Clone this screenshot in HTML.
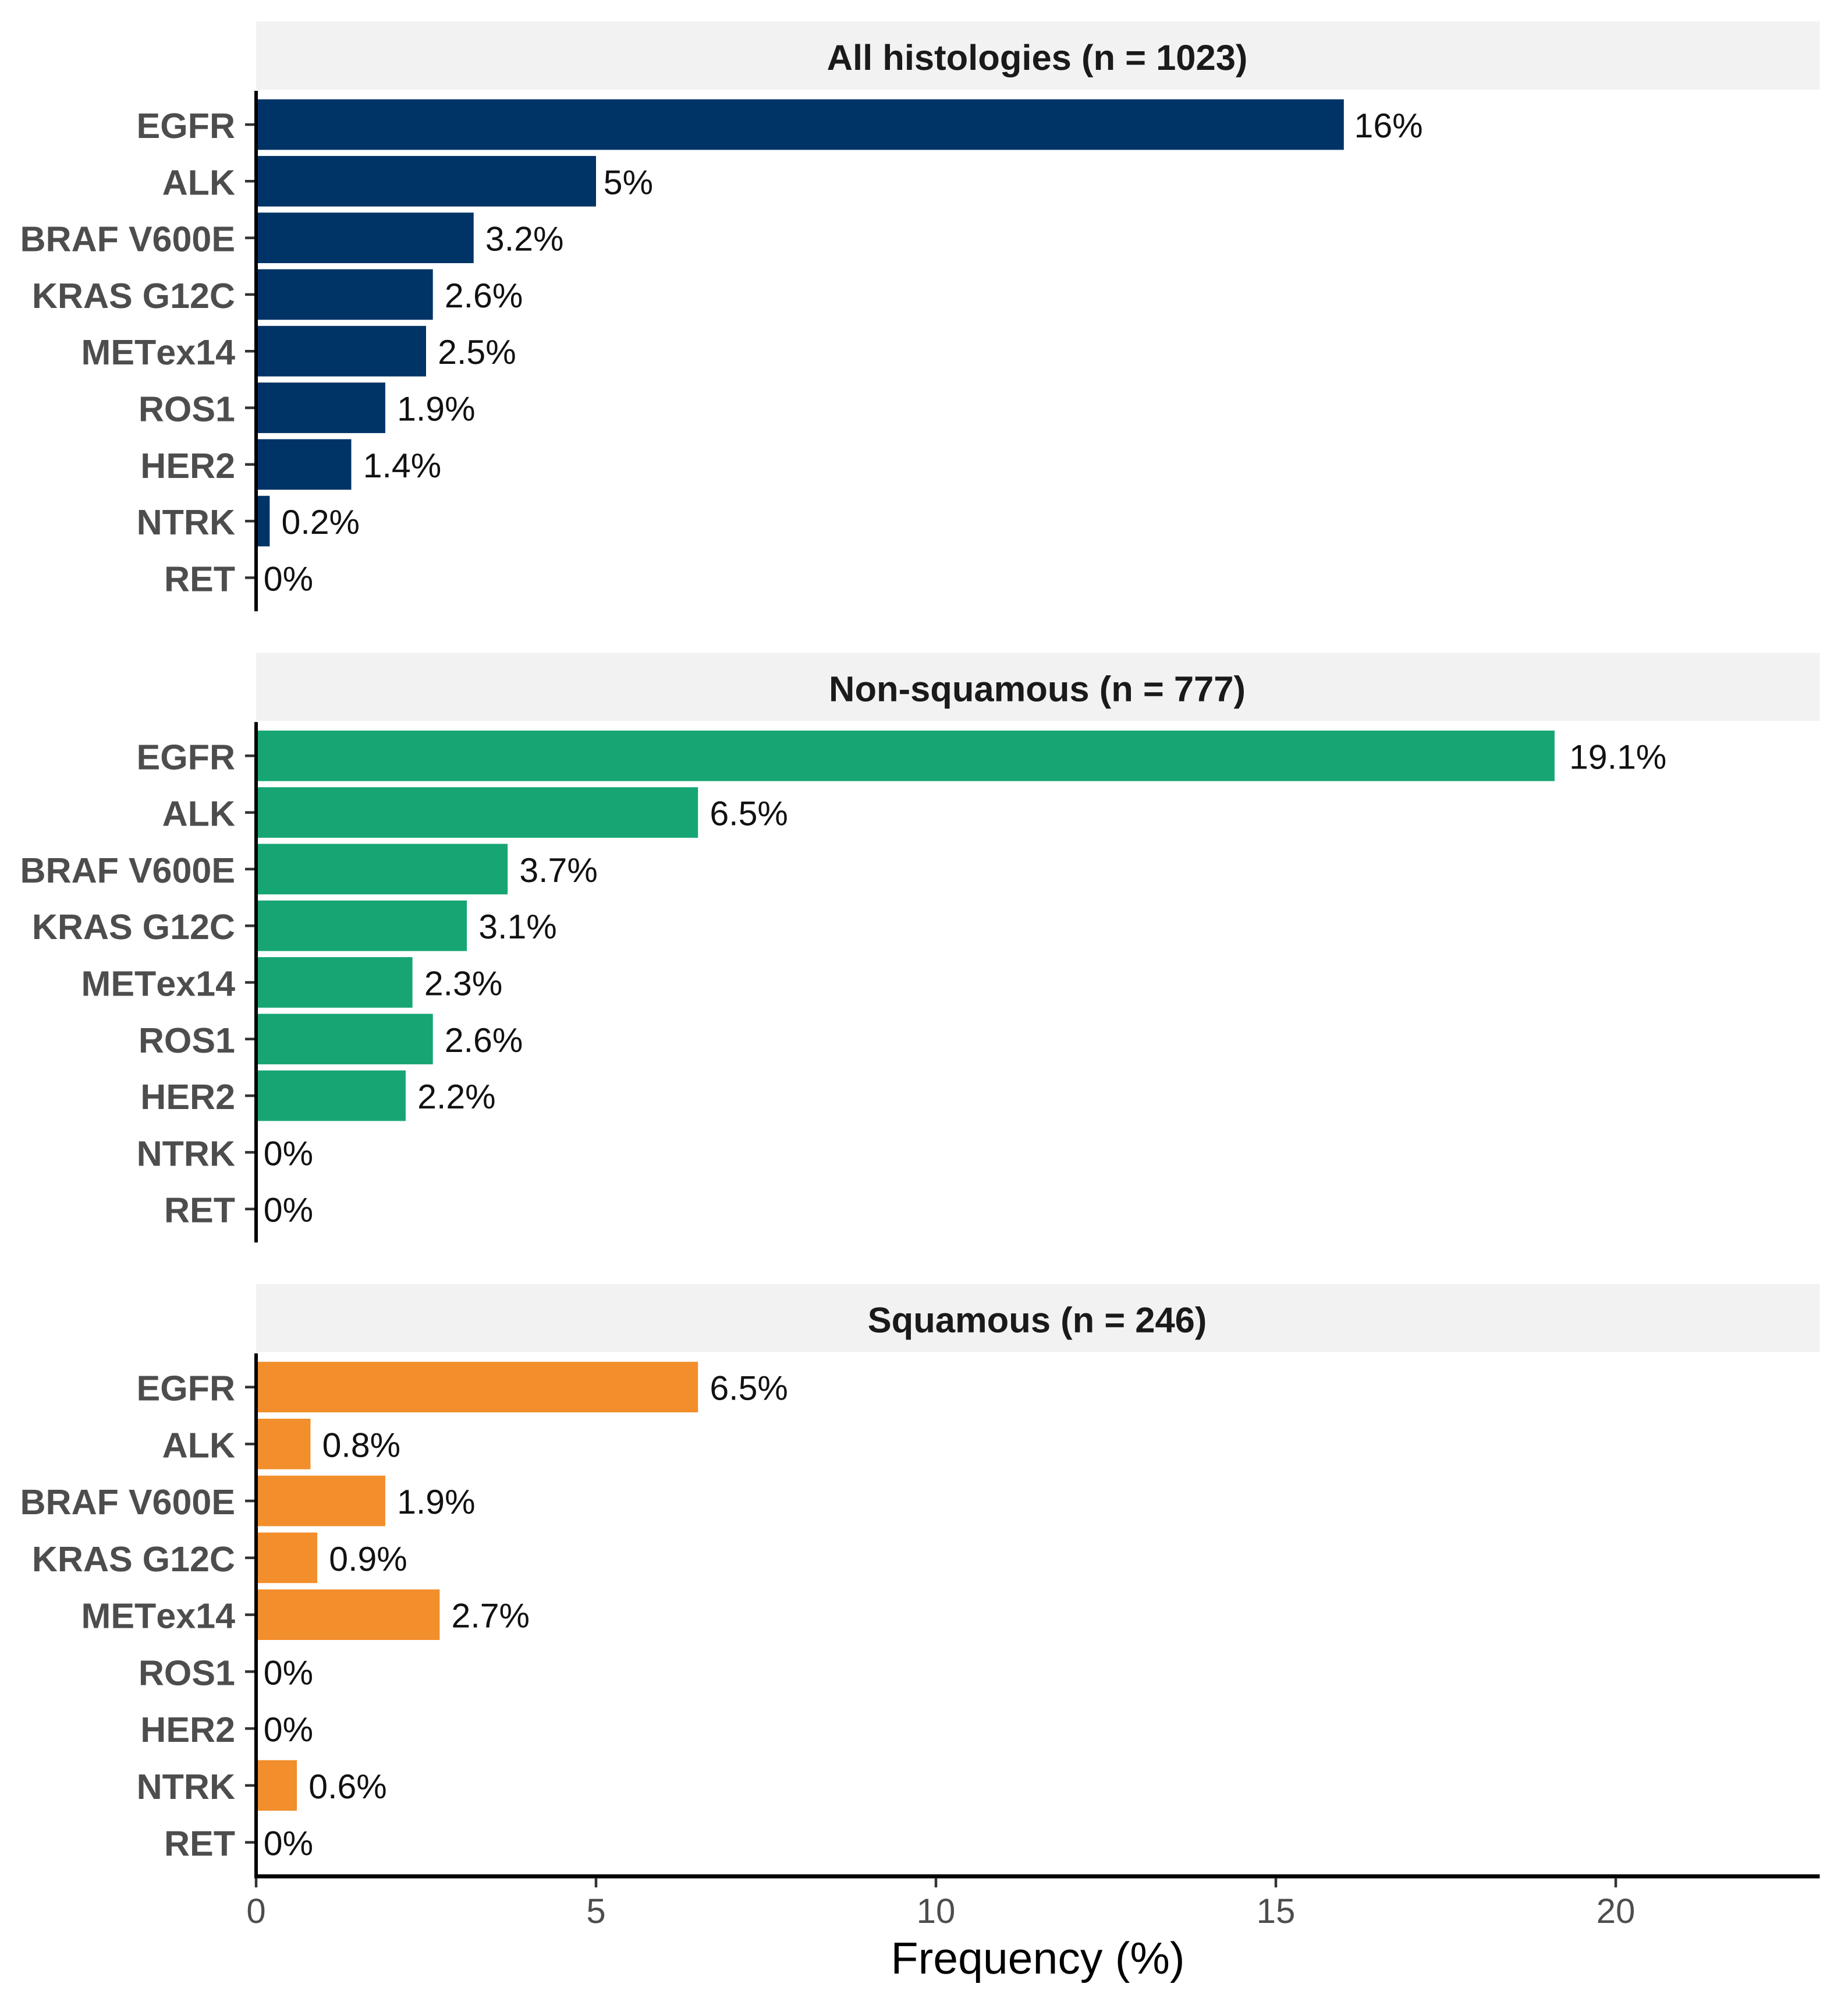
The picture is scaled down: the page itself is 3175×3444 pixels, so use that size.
<!DOCTYPE html>
<html lang="en">
<head>
<meta charset="utf-8">
<title>Frequency of driver alterations by histology</title>
<style>
  html, body { margin: 0; padding: 0; background: #ffffff; }
  svg { display: block; font-family: "Liberation Sans", Arial, sans-serif; text-rendering: geometricPrecision; font-kerning: none; }
</style>
</head>
<body>
<svg id="chart" xmlns="http://www.w3.org/2000/svg" width="3175" height="3444" viewBox="0 0 3175 3444">
  <rect x="0" y="0" width="3175" height="3444" fill="#ffffff"></rect>
</svg>
<script>
const categories = ["EGFR", "ALK", "BRAF V600E", "KRAS G12C", "METex14", "ROS1", "HER2", "NTRK", "RET"];
const allHistologies = [16, 5, 3.2, 2.6, 2.5, 1.9, 1.4, 0.2, 0];
const nonSquamous = [19.1, 6.5, 3.7, 3.1, 2.3, 2.6, 2.2, 0, 0];
const squamous = [6.5, 0.8, 1.9, 0.9, 2.7, 0, 0, 0.6, 0];
const panelTitles = ["All histologies (n = 1023)", "Non-squamous (n = 777)", "Squamous (n = 246)"];
const panelNames = ["all-histologies", "non-squamous", "squamous"];
const panelColors = ["#003366", "#17A673", "#F28E2B"];
const xTicks = [0, 5, 10, 15, 20];
const xAxisTitle = "Frequency (%)";
const xMax = 23;

const seriesList = [allHistologies, nonSquamous, squamous];
const svg = document.getElementById("chart");
const NS = "http://www.w3.org/2000/svg";

function xScale(v) { return 440 + (v / xMax) * (3126.4 - 440); }
function panelOffset(p) { return p * 1084.3; }
function bandStep(p) { return p === 2 ? 97.75 : 97.3; }
function yScale(p, j) { return 214 + panelOffset(p) + j * bandStep(p); }

function make(tag, attrs, text) {
  const el = document.createElementNS(NS, tag);
  for (const k in attrs) el.setAttribute(k, attrs[k]);
  if (text !== undefined) el.textContent = text;
  svg.appendChild(el);
  return el;
}

const right = xScale(xMax);
const barHeight = 86.8;

seriesList.forEach(function (values, p) {
  const off = panelOffset(p);
  const slug = panelNames[p];

  const strip = make("rect", { x: 440, y: 37 + off, width: right - 440, height: 117, fill: "#F2F2F2" });
  
  

  const title = make("text", {
    x: 1782, y: 120 + off, "text-anchor": "middle",
    "font-size": 61.5, "font-weight": "bold", fill: "#1a1a1a"
  }, panelTitles[p]);
  
  

  values.forEach(function (v, j) {
    const cy = yScale(p, j);
    const catSlug = categories[j].toLowerCase().replace(/\s+/g, '-');

    const bar = make("rect", {
      x: xScale(0), y: cy - barHeight / 2,
      width: xScale(v) - xScale(0), height: barHeight,
      fill: panelColors[p]
    });
    
    

    const tick = make("line", {
      x1: 421, x2: 438, y1: cy, y2: cy,
      stroke: "#333333", "stroke-width": 4.5
    });
    
    

    const cat = make("text", {
      x: 404, y: cy + 23, "text-anchor": "end",
      "font-size": 61, "font-weight": "bold", fill: "#4d4d4d"
    }, categories[j]);
    
    

    const val = make("text", {
      x: xScale(v), y: cy + 22, "font-size": 59, fill: "#111111"
    }, v + "%");
    val.setAttribute('x', xScale(v) + 0.15 * val.getComputedTextLength());
    
    
  });

  const axisBottom = p === seriesList.length - 1 ? 3226 : 1050 + off;
  const yAxis = make("line", {
    x1: 440, x2: 440, y1: 156 + off, y2: axisBottom,
    stroke: "#000000", "stroke-width": 6
  });
  
  
});

const xAxisLine = make("line", {
  x1: 437, x2: right, y1: 3223, y2: 3223,
  stroke: "#000000", "stroke-width": 7
});



xTicks.forEach(function (t) {
  const tick = make("line", {
    x1: xScale(t), x2: xScale(t), y1: 3226, y2: 3242,
    stroke: "#333333", "stroke-width": 4.5
  });
  
  

  const label = make("text", {
    x: xScale(t), y: 3303, "text-anchor": "middle",
    "font-size": 60, fill: "#4d4d4d"
  }, String(t));
  
  
});

const axisTitle = make("text", {
  x: 1783, y: 3390, "text-anchor": "middle",
  "font-size": 77, fill: "#000000"
}, xAxisTitle);


</script>
</body>
</html>
